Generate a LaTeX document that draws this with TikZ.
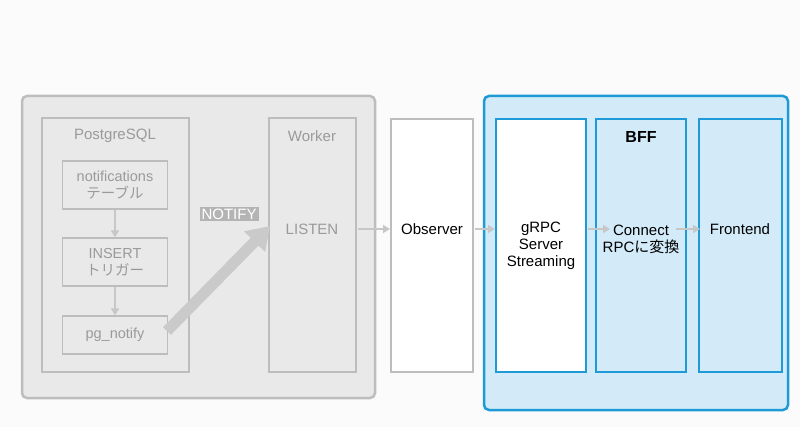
\documentclass[tikz,border=0pt]{standalone}
\usepackage{fontspec}
\setmainfont{Liberation Sans}
\newfontfamily\jpfont{Noto Sans CJK JP}
\usepackage{xcolor}
\usetikzlibrary{arrows.meta}

\definecolor{boxgray}{HTML}{BDBDBD}
\definecolor{txtgray}{HTML}{9A9A9A}
\definecolor{bgpale}{HTML}{E9E9E9}
\definecolor{bffblue}{HTML}{1E9AD6}
\definecolor{bfffill}{HTML}{D3EBF8}

\tikzset{
    grouped/.style={draw, rounded corners=5pt, line width=2.5pt},
    lane/.style={draw, line width=1.4pt, inner sep=0pt},
    item/.style={draw=boxgray, line width=1.4pt, fill=bgpale, text=txtgray, align=center,
        minimum width=105pt, font=\fontsize{14.5}{16.5}\selectfont},
    flow/.style={-{Triangle[length=7pt,width=8pt]}, line width=2pt, draw=boxgray!85},
    lbl/.style={font=\fontsize{15}{17}\selectfont, align=center}
}

\begin{document}
\begin{tikzpicture}[x=1pt, y=-1pt]
            \useasboundingbox (0, 0) rectangle (800, 427);
            \fill[white!97!gray] (0, 0) rectangle (800, 427);

            % left group
            \draw[grouped, draw=boxgray, fill=bgpale] (22, 96) rectangle (375, 398);
            \draw[lane, draw=boxgray] (42, 118) rectangle (189, 372);
            \draw[lane, draw=boxgray] (269, 118) rectangle (356, 372);
            \node[lbl, text=txtgray] (pg) at (115, 136) {PostgreSQL};
            \node[lbl, text=txtgray] (worker) at (312, 136) {Worker};
            \node[lbl, text=txtgray] (listen) at (312, 229) {LISTEN};
            \node[item, minimum height=48pt] (table) at (115, 185) {notifications\\{\jpfont テーブル}};
            \node[item, minimum height=48pt] (trigger) at (115, 262) {INSERT\\{\jpfont トリガー}};
            \node[item, minimum height=38pt] (pgnotify) at (115, 335) {pg\_notify};
            \draw[flow] (table) -- (trigger);
            \draw[flow] (trigger) -- (pgnotify);
            \coordinate (tail) at (167, 331);
            \coordinate (tip) at (270, 226);
            \draw[-{Triangle[length=22pt,width=28pt]}, line width=11pt, draw=boxgray!80] (tail) -- (tip);
            \node[fill=boxgray!95!black, text=white, lbl, inner sep=2pt] (notify) at (229, 214) {NOTIFY};

            % observer
            \draw[lane, draw=boxgray, fill=white] (391, 119) rectangle (473, 372);
            \node[lbl] (observer) at (432, 229) {Observer};

            % BFF group
            \draw[grouped, draw=bffblue, fill=bfffill] (484, 96) rectangle (788, 410);
            \draw[lane, draw=bffblue, fill=white] (496, 119) rectangle (586, 372);
            \draw[lane, draw=bffblue] (596, 119) rectangle (686, 372);
            \draw[lane, draw=bffblue] (699, 119) rectangle (782, 372);
            \node[font=\bfseries\fontsize{16}{18}\selectfont] (bff) at (641, 137) {BFF};
            \node[lbl] (grpc) at (541, 246) {gRPC\\Server\\Streaming};
            \node[lbl] (connect) at (641, 239) {Connect\\RPC{\jpfont に変換}};
            \node[lbl] (front) at (740, 229) {Frontend};

            % lane borders
            \coordinate (workerE) at (358, 229);
            \coordinate (obsW) at (390, 229);
            \coordinate (obsE) at (475, 229);
            \coordinate (grpcW) at (495, 229);
            \coordinate (grpcE) at (588, 229);
            \coordinate (connW) at (610, 229);
            \coordinate (connE) at (676, 229);
            \coordinate (frontW) at (700, 229);
            \draw[flow] (workerE) -- (obsW);
            \draw[flow] (obsE) -- (grpcW);
            \draw[flow] (grpcE) -- (connW);
            \draw[flow] (connE) -- (frontW);
\end{tikzpicture}
\end{document}
